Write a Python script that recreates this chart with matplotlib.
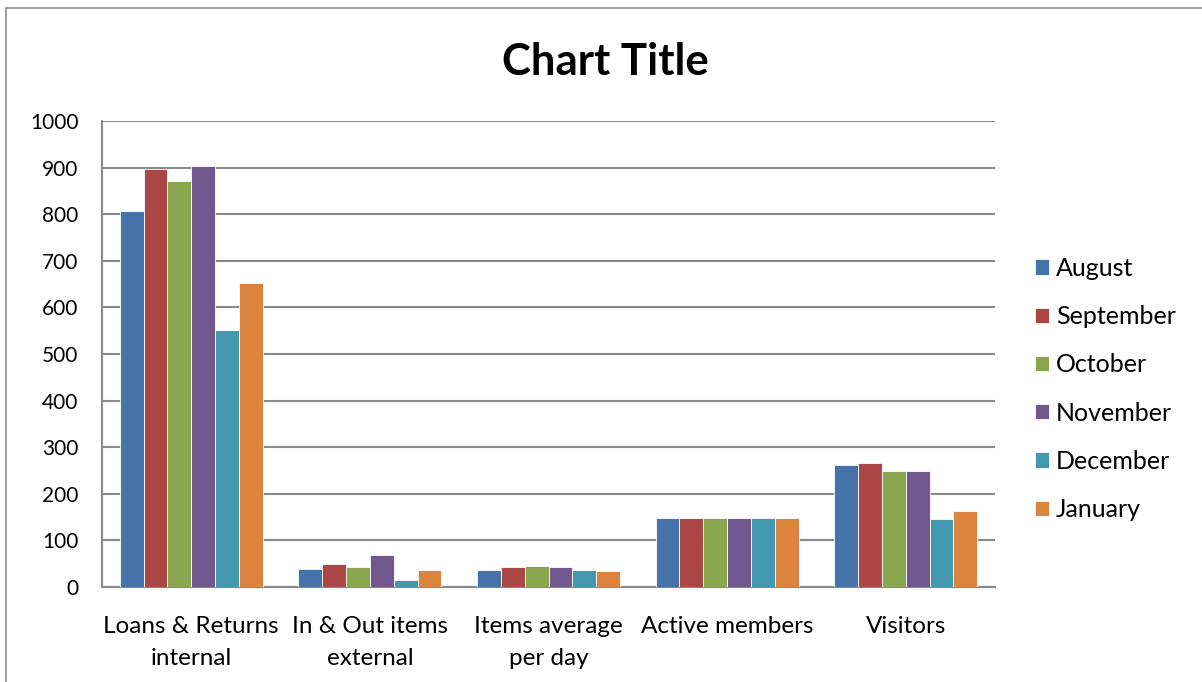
import matplotlib.pyplot as plt
from matplotlib.patches import Rectangle
import numpy as np

plt.rcParams['font.family'] = ['Lato', 'DejaVu Sans']

categories = ['Loans & Returns\ninternal', 'In & Out items\nexternal',
              'Items average\nper day', 'Active members', 'Visitors']
months = ['August', 'September', 'October', 'November', 'December', 'January']
august = [807, 38, 37, 148, 261]
september = [898, 49, 42, 148, 267]
october = [872, 42, 45, 148, 249]
november = [903, 69, 43, 148, 249]
december = [551, 14, 36, 148, 145]
january = [652, 37, 35, 148, 163]
series = [august, september, october, november, december, january]
colors = ['#4572A7', '#AA4643', '#89A54E', '#71588F', '#4198AF', '#DB843D']

W, H = 1202, 682
fig = plt.figure(figsize=(W / 100, H / 100), dpi=100)
ax = fig.add_axes([102 / W, (H - 587) / H, (995 - 102) / W, (587 - 121) / H])

# outer chart frame
fig.patches.append(Rectangle((6 / W, -0.1), 1.2, (H - 8) / H + 0.1,
                             transform=fig.transFigure, fill=False,
                             edgecolor='#8c8c8c', lw=1.2))

x = np.arange(len(categories))
width = 0.8 / len(series)
for i, (vals, c) in enumerate(zip(series, colors)):
    ax.bar(x - 0.4 + width * (i + 0.5), vals, width, color=c,
           edgecolor='white', linewidth=0.6, label=months[i], zorder=3)

ax.set_xlim(-0.5, len(categories) - 0.5)
ax.set_ylim(0, 1000)
ax.set_yticks(range(0, 1001, 100))
ax.yaxis.grid(True, color='#8a8a8a', lw=1.5, zorder=0)
ax.set_axisbelow(True)
for s in ['top', 'right']:
    ax.spines[s].set_visible(False)
ax.spines['left'].set_color('#8a8a8a')
ax.spines['left'].set_linewidth(1.5)
ax.spines['bottom'].set_color('#8a8a8a')
ax.spines['bottom'].set_linewidth(1.5)
ax.set_xticks(x)
ax.set_xticklabels(categories, fontsize=17.5, linespacing=1.65)
ax.tick_params(axis='x', length=0, pad=21)
ax.tick_params(axis='y', labelsize=15, length=0, pad=17)

fig.text(605 / W, 1 - 62 / H, 'Chart Title', ha='center', va='center',
         fontsize=31.5, fontweight='bold')

fig.legend(loc='center left', bbox_to_anchor=(1012 / W, 1 - 389 / H),
           frameon=False, fontsize=18, handlelength=0.56, handleheight=0.56,
           handletextpad=0.3, labelspacing=1.01)

fig.savefig('out.png', dpi=100)
